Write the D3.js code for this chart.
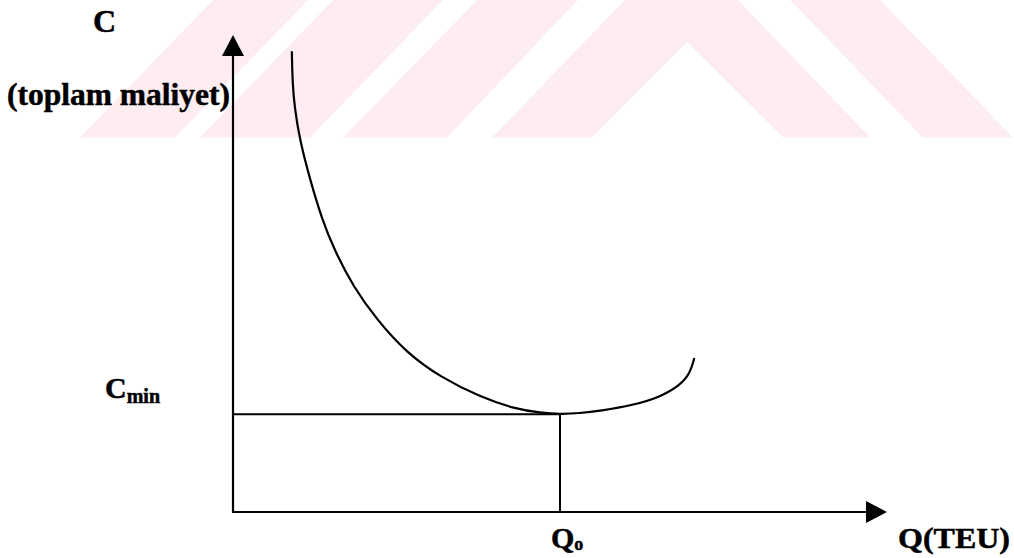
<!DOCTYPE html>
<html>
<head>
<meta charset="utf-8">
<script src="https://cdn.jsdelivr.net/npm/d3@7"></script>
<style>
  html, body { margin: 0; padding: 0; background: #fff; }
  svg { display: block; }
  text { font-family: "Liberation Serif", "Times New Roman", serif; font-weight: bold; fill: #000; stroke: #000; stroke-width: 0.5px; }
</style>
</head>
<body>
<div id="chart"></div>
<script>
// total cost curve C(Q), arbitrary units (0..100 on both axes)
const curveQ = [9.0, 9.1, 9.4, 10.2, 11.8, 13.6, 15.5, 18.4, 22.0, 26.6, 31.7, 37.8, 43.4, 47.0, 50.0, 53.0, 56.1, 61.2, 65.3, 68.4, 69.9, 70.5];
const curveC = [96.4, 90.0, 85.0, 78.0, 69.6, 61.4, 54.9, 47.2, 40.3, 33.3, 28.3, 24.1, 21.5, 20.8, 20.5, 20.7, 21.2, 22.4, 24.1, 26.6, 29.1, 32.1];
const qOpt = 50;     // Q0
const cMin = 20.5;   // Cmin
const axisMax = 100;

const width = 1014;
const height = 558;

const svg = d3.select("#chart")
    .append("svg")
    .attr("width", width)
    .attr("height", height);

// faint watermark band at the top
const wm = svg.append("g").attr("fill", "#fdedf0");
const wmShapes = [
    [[80, 137.5], [175, 137.5], [308, 0], [213, 0]],
    [[200, 137.5], [310, 137.5], [443, 0], [333, 0]],
    [[343, 137.5], [447, 137.5], [578, 0], [477, 0]],
    [[492, 137.5], [625, 0], [738, 0], [870, 137.5], [783, 137.5], [687, 42], [592, 137.5]],
    [[790, 0], [880, 0], [1013, 137.5], [923, 137.5]]
];
wmShapes.forEach(pts => {
    wm.append("polygon").attr("points", pts.map(p => p.join(",")).join(" "));
});

const x = d3.scaleLinear().domain([0, axisMax]).range([233, 887]);
const y = d3.scaleLinear().domain([0, axisMax]).range([512, 35]);

const head = 21;   // arrowhead length
const half = 11;   // arrowhead half width

// y axis
svg.append("line")
    .attr("x1", x(0)).attr("y1", y(0))
    .attr("x2", x(0)).attr("y2", y(axisMax) + head)
    .attr("stroke", "#000").attr("stroke-width", 2.2);
svg.append("path")
    .attr("d", `M${x(0)},${y(axisMax)} L${x(0) - half},${y(axisMax) + head} L${x(0) + half},${y(axisMax) + head} Z`)
    .attr("fill", "#000");

// x axis
svg.append("line")
    .attr("x1", x(0) - 1).attr("y1", y(0))
    .attr("x2", x(axisMax) - head).attr("y2", y(0))
    .attr("stroke", "#000").attr("stroke-width", 2.2);
svg.append("path")
    .attr("d", `M${x(axisMax)},${y(0)} L${x(axisMax) - head},${y(0) - half} L${x(axisMax) - head},${y(0) + half} Z`)
    .attr("fill", "#000");

// Cmin and Q0 guide lines
svg.append("line")
    .attr("x1", x(0)).attr("y1", y(cMin))
    .attr("x2", x(qOpt)).attr("y2", y(cMin))
    .attr("stroke", "#000").attr("stroke-width", 2);
svg.append("line")
    .attr("x1", x(qOpt)).attr("y1", y(cMin))
    .attr("x2", x(qOpt)).attr("y2", y(0))
    .attr("stroke", "#000").attr("stroke-width", 2);

// cost curve
const pts = curveQ.map((q, i) => [q, curveC[i]]);
const line = d3.line()
    .x(d => x(d[0]))
    .y(d => y(d[1]))
    .curve(d3.curveBasis);
svg.append("path")
    .datum(pts)
    .attr("d", line)
    .attr("fill", "none")
    .attr("stroke", "#000")
    .attr("stroke-width", 2.2)
    .attr("stroke-linecap", "round");

// labels
svg.append("text").attr("x", 93).attr("y", 32)
    .style("font-size", "32px").text("C");

svg.append("text").attr("x", 7).attr("y", 105)
    .attr("textLength", 223).attr("lengthAdjust", "spacingAndGlyphs")
    .style("font-size", "31px").text("(toplam maliyet)");

const cm = svg.append("text").attr("x", 105).attr("y", 398).style("font-size", "30px");
cm.append("tspan").text("C");
cm.append("tspan").attr("dy", 5).style("font-size", "20px").text("min");

const q0 = svg.append("text").attr("x", 551).attr("y", 548).style("font-size", "30px");
q0.append("tspan").text("Q");
q0.append("tspan").attr("dy", 2).style("font-size", "18px").text("o");

svg.append("text").attr("x", 898).attr("y", 548)
    .attr("textLength", 112).attr("lengthAdjust", "spacingAndGlyphs")
    .style("font-size", "30px").text("Q(TEU)");
</script>
</body>
</html>
